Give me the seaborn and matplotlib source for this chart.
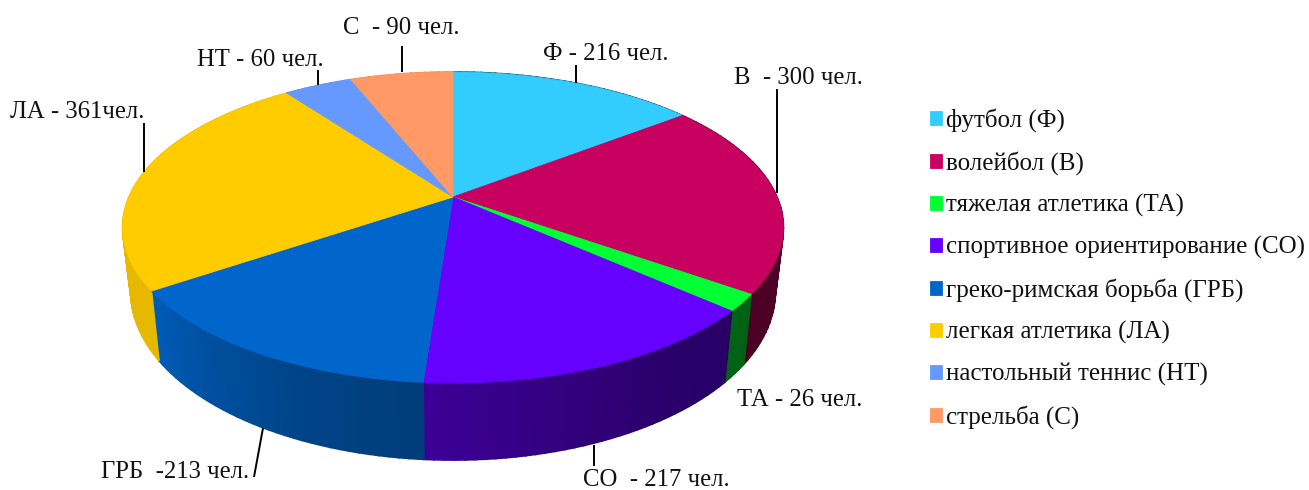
import numpy as np
import matplotlib
matplotlib.use('Agg')
import matplotlib.pyplot as plt
import matplotlib.transforms as mtransforms
import seaborn as sns

sports = ['футбол (Ф)', 'волейбол (В)', 'тяжелая атлетика (ТА)', 'спортивное ориентирование (СО)',
          'греко-римская борьба (ГРБ)', 'легкая атлетика (ЛА)', 'настольный теннис (НТ)', 'стрельба (С)']
counts = [216, 300, 26, 217, 213, 361, 60, 90]
colors = ['#33CCFF', '#C8005F', '#00FF33', '#6600FF', '#0066CC', '#FFCC00', '#6699FF', '#FF9966']

slice_labels = ['Ф - 216 чел.', 'В  - 300 чел.', 'ТА - 26 чел.', 'СО  - 217 чел.',
                'ГРБ  -213 чел.', 'ЛА - 361чел.', 'НТ - 60 чел.', 'С  - 90 чел.']
label_x = [543, 734, 737, 583, 101, 10, 197, 343]
label_y = [60, 84, 406, 486, 478, 118, 66, 34]

# leader lines (x0, y0, x1, y1) in pixels, ТА has none
leaders = [(576, 65, 576, 83), (777, 89, 777, 193), (593.5, 445, 593.5, 466), (263, 428, 254, 477),
           (143.5, 123, 143.5, 172), (318, 70, 318, 85), (402, 46, 402, 72)]

sns.set_theme(style='white')
plt.rcParams['font.family'] = ['Liberation Serif', 'DejaVu Serif']

# tilted disc: centre, half width, half height, perspective, rim depth, rim shrink
CX, CY, A, B, K = 453, 197, 324, 149.5, 0.196
DEPTH, SHRINK = 62, 0.975


class Tilt(mtransforms.Transform):
    # unit disc of the pie -> tilted disc in pixel coords
    input_dims = 2
    output_dims = 2

    def transform_non_affine(self, xy):
        xy = np.asarray(xy, dtype=float)
        w = 1 + K * xy[:, 1]
        return np.column_stack([CX + A * xy[:, 0] / w, CY - B * xy[:, 1] / w])


tilt = Tilt()


def rim_shade(deg):
    # darker on the right, lighter on the left (deg clockwise from top)
    return np.interp(deg, [0, 125, 150, 186, 205, 236, 360], [0.36, 0.38, 0.43, 0.6, 0.68, 0.9, 0.9])


fig = plt.figure(figsize=(13.09, 4.90), dpi=100)
ax = fig.add_axes([0, 0, 1, 1])

palette = sns.color_palette(colors)
wedges, _ = ax.pie(counts, colors=palette, startangle=90, counterclock=False,
                   wedgeprops={'linewidth': 0.6, 'zorder': 3})
for wedge, color in zip(wedges, palette):
    wedge.set_edgecolor(color)
    wedge.set_transform(tilt + ax.transData)

    # rim of the slice, short strips so the shade can change along it
    steps = np.arange(wedge.theta1, wedge.theta2 + 1.5, 1.5)
    steps[-1] = wedge.theta2
    for t0, t1 in zip(steps[:-1], steps[1:]):
        phi = np.radians([t0, t1])
        unit = np.column_stack([np.cos(phi), np.sin(phi)])
        top = tilt.transform_non_affine(unit)
        low = top.copy()
        low[:, 0] = CX + (top[:, 0] - CX) * SHRINK
        low[:, 1] = top[:, 1] + DEPTH / (1 + K * unit[:, 1])
        deg = (90 - 0.5 * (t0 + t1)) % 360
        shade = np.array(color) * rim_shade(deg)
        ax.fill([top[0, 0], top[1, 0], low[1, 0], low[0, 0]], [top[0, 1], top[1, 1], low[1, 1], low[0, 1]],
                color=shade, linewidth=1.2, zorder=2)

ax.set_aspect('auto')
ax.set_xlim(0, 1309)
ax.set_ylim(490, 0)
ax.axis('off')

for (x0, y0, x1, y1) in leaders:
    ax.plot([x0, x1], [y0, y1], color='black', linewidth=1.4, zorder=4, solid_capstyle='butt')

for txt, x, y in zip(slice_labels, label_x, label_y):
    ax.text(x, y, txt, fontsize=17.8, color='#111111', ha='left', va='baseline', zorder=5)

ax.legend(wedges, sports, loc='upper left', bbox_to_anchor=(930, 108), bbox_transform=ax.transData,
          frameon=False, fontsize=18, labelcolor='#111111', borderpad=0, borderaxespad=0,
          handlelength=0.48, handleheight=0.48, handletextpad=0.16, labelspacing=0.762)

fig.savefig('out.png', dpi=100, facecolor='white')
